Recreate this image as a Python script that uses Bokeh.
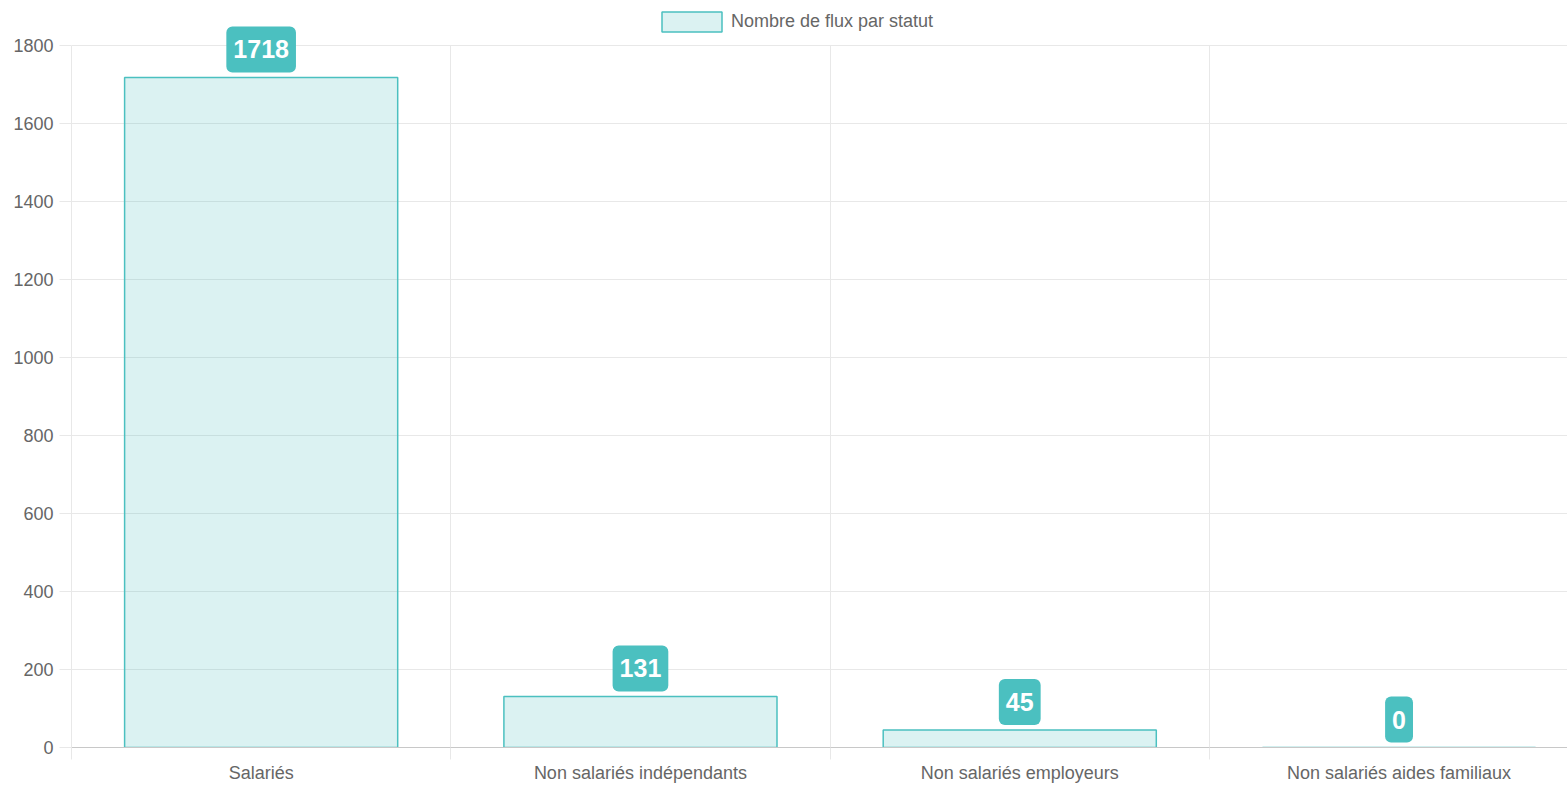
from bokeh.plotting import figure
from bokeh.models import Range1d, FixedTicker, Legend, LegendItem, Label
from bokeh.embed import file_html
from bokeh.resources import INLINE

categories = ["Salariés", "Non salariés indépendants", "Non salariés employeurs", "Non salariés aides familiaux"]
counts = [1718, 131, 45, 0]
series_name = "Nombre de flux par statut"
y_ticks = [0, 200, 400, 600, 800, 1000, 1200, 1400, 1600, 1800]

TEAL = "rgb(75,192,192)"
GRID = "#e8e8e8"
FONT = "Liberation Sans"

xs = [i + 0.5 for i in range(len(categories))]
y_max = y_ticks[-1]
band_px = 379.3
frame_w = 1567 - 71
axis_top_px, axis_bottom_px = 45, 748
frame_h = axis_bottom_px            # frame spans from the top of the figure
y_top = y_max * axis_bottom_px / (axis_bottom_px - axis_top_px)

p = figure(width=1567, height=785, output_backend="svg", toolbar_location=None,
           x_range=Range1d(0, frame_w / band_px), y_range=Range1d(0, y_top),
           min_border_left=71, min_border_right=0, min_border_top=0, min_border_bottom=37)
p.outline_line_color = None
p.background_fill_color = "white"

bars = p.vbar(x=xs, top=counts, width=0.72, fill_color=TEAL, fill_alpha=0.2,
              line_color=TEAL, line_width=1.5)

for x, c in zip(xs, counts):
    p.add_layout(Label(x=x, y=c, text=str(c), anchor="bottom_center", y_offset=5,
                       text_color="white", text_font=FONT, text_font_style="bold",
                       text_font_size="25px", background_fill_color=TEAL,
                       border_radius=6, padding=(7, 14)))

# y axis
p.yaxis.ticker = FixedTicker(ticks=y_ticks)
p.yaxis.bounds = (0, y_max)
p.yaxis.major_label_text_font = FONT
p.yaxis.major_label_text_font_size = "18px"
p.yaxis.major_label_text_color = "#666666"
p.yaxis.major_tick_out = 12
p.yaxis.major_tick_in = 0
p.yaxis.major_tick_line_color = GRID
p.yaxis.minor_tick_line_color = None
p.yaxis.axis_line_color = GRID
p.yaxis.major_label_standoff = 6
p.ygrid.grid_line_color = GRID

# x axis
p.xaxis.ticker = FixedTicker(ticks=xs, minor_ticks=[0, 1, 2, 3])
p.xaxis.major_label_overrides = {x: c for x, c in zip(xs, categories)}
p.xaxis.major_label_text_font = FONT
p.xaxis.major_label_text_font_size = "18px"
p.xaxis.major_label_text_color = "#666666"
p.xaxis.major_tick_line_color = None
p.xaxis.major_tick_out = 0
p.xaxis.major_tick_in = 0
p.xaxis.minor_tick_out = 12
p.xaxis.minor_tick_in = 0
p.xaxis.minor_tick_line_color = GRID
p.xaxis.axis_line_color = "#c8c8c8"
p.xaxis.major_label_standoff = 3
p.xgrid.ticker = FixedTicker(ticks=[0, 1, 2, 3])
p.xgrid.grid_line_color = GRID
p.xgrid.cross_bounds = (0, y_max)

legend = Legend(items=[LegendItem(label=series_name, renderers=[bars])],
                orientation="horizontal", location=(583, frame_h - 35),
                glyph_width=75, glyph_height=25, label_height=25,
                label_text_font=FONT, label_text_font_size="18px", label_text_color="#666666",
                label_standoff=2, border_line_color=None, background_fill_alpha=0,
                margin=0, padding=0)
p.add_layout(legend, "center")

open("out.html", "w").write(file_html(p, INLINE))
